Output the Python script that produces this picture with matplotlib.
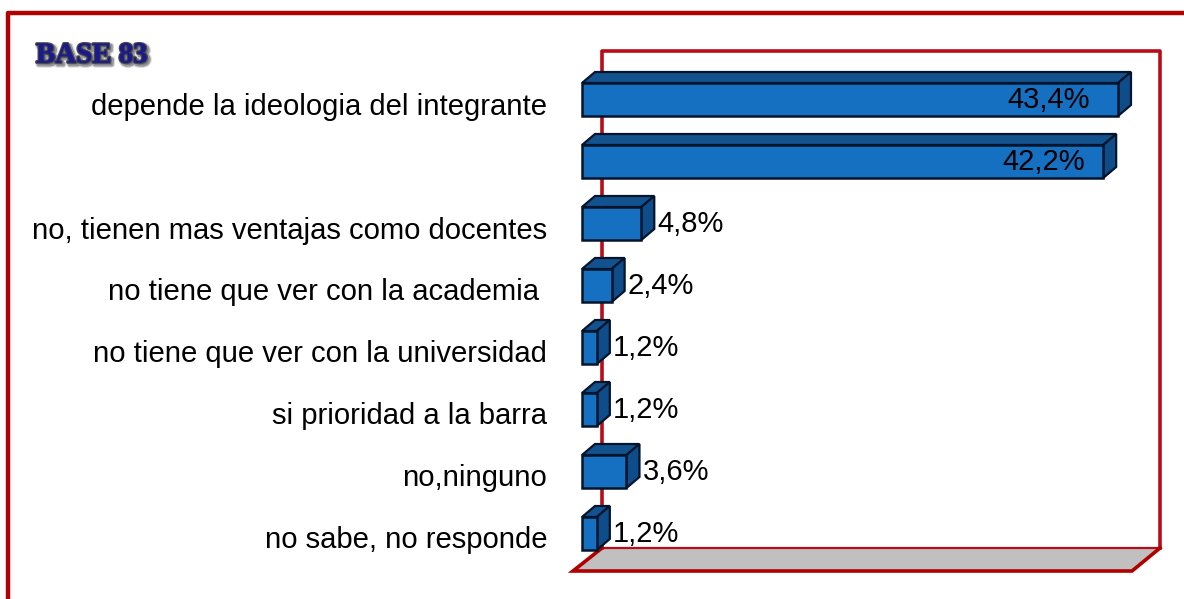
# horizontal 3d-look bars, BASE 83

import matplotlib
matplotlib.use('Agg')
import matplotlib.pyplot as plt
import matplotlib.patheffects as pe
from matplotlib.patches import Polygon
from matplotlib.transforms import ScaledTranslation

categories = ['depende la ideologia del integrante', '', 'no, tienen mas ventajas como docentes',
              'no tiene que ver con la academia ', 'no tiene que ver con la universidad',
              'si prioridad a la barra', 'no,ninguno', 'no sabe, no responde']
values = [43.4, 42.2, 4.8, 2.4, 1.2, 1.2, 3.6, 1.2]
value_labels = ['43,4%', '42,2%', '4,8%', '2,4%', '1,2%', '1,2%', '3,6%', '1,2%']
title = 'BASE 83'

plt.rcParams['font.family'] = ['Liberation Sans', 'DejaVu Sans']

W, H = 1184, 599
RED = '#b80d18'
DARK_RED = '#b00000'
FRONT = '#1570c2'
SIDE = '#0f4c8a'
TOP = '#11528f'
EDGE = '#04152b'

fig = plt.figure(figsize=(W / 100, H / 100), dpi=100)

# frame and back wall, in pixels
bg = fig.add_axes([0, 0, 1, 1])
bg.set_xlim(0, W)
bg.set_ylim(H, 0)
bg.axis('off')
bg.plot([8, 8, W + 5], [H + 5, 13, 13], color=DARK_RED, lw=3.2, solid_joinstyle='round')
bg.plot([602, 602, 1160, 1160], [548, 51, 51, 548], color=RED, lw=2.6, solid_joinstyle='round')
bg.add_patch(Polygon([(602, 548), (1160, 548), (1132, 571), (573, 571)], closed=True,
                     facecolor='#c0c0c0', edgecolor='none'))
bg.plot([602, 1160], [548, 548], color=RED, lw=1.6)
bg.plot([602, 573, 1132, 1160], [548, 571, 571, 548], color=DARK_RED, lw=2.6, solid_joinstyle='miter')

# bars: 12.35 px per percent, 62 px per category
px_x = 12.35
px_y = 62.0
ax = fig.add_axes([582 / W, 0, (W - 582) / W, 1])
ax.patch.set_alpha(0)
ax.set_xlim(0, (W - 582) / px_x)
ax.set_ylim(499.5 / px_y, -99.5 / px_y)
for s in ax.spines.values():
    s.set_visible(False)

dx = 13 / px_x
dy = 11 / px_y
h = 33 / px_y
y = list(range(len(values)))

for i, v in zip(y, values):
    top = i - h / 2
    bot = i + h / 2
    ax.add_patch(Polygon([(0, top), (dx, top - dy), (v + dx, top - dy), (v, top)], closed=True,
                         facecolor=TOP, edgecolor=EDGE, lw=1.6, zorder=2, clip_on=False))
    ax.add_patch(Polygon([(v, top), (v + dx, top - dy), (v + dx, bot - dy), (v, bot)], closed=True,
                         facecolor=SIDE, edgecolor=EDGE, lw=1.6, zorder=2, clip_on=False))
ax.barh(y, values, height=h, color=FRONT, edgecolor=EDGE, lw=1.8, zorder=3, clip_on=False)

ax.set_yticks(y, categories, fontsize=21.1)
ax.set_xticks([])
ax.tick_params(axis='y', length=0, pad=25)
shift = ScaledTranslation(0, -4 / 100, fig.dpi_scale_trans)
for t in ax.get_yticklabels():
    t.set_transform(t.get_transform() + shift)

inside_pad = {0: -28, 1: -18}
for i, (v, lab) in enumerate(zip(values, value_labels)):
    if i in inside_pad:
        ax.annotate(lab, (v, i), xytext=(inside_pad[i] * 0.72, 0), textcoords='offset points',
                    ha='right', va='center', fontsize=21, color='black', zorder=5)
    else:
        ax.annotate(lab, (v, i), xytext=(16 * 0.72, 0), textcoords='offset points',
                    ha='left', va='center', fontsize=21, color='black', zorder=5)

# title with outline and soft shadow
bg.text(36, 55, title, family='Liberation Serif', weight='bold', fontsize=20.8, color='#1a1a8c',
        ha='left', va='center',
        path_effects=[pe.Stroke(linewidth=4.5, foreground='#bbbbbb', alpha=0.5, offset=(1.5, -1.5)),
                      pe.Stroke(linewidth=2.8, foreground='#888888', alpha=0.8, offset=(1.5, -1.5)),
                      pe.withStroke(linewidth=2.0, foreground='#484848'),
                      pe.Normal()])

fig.savefig('out.png', dpi=100)
